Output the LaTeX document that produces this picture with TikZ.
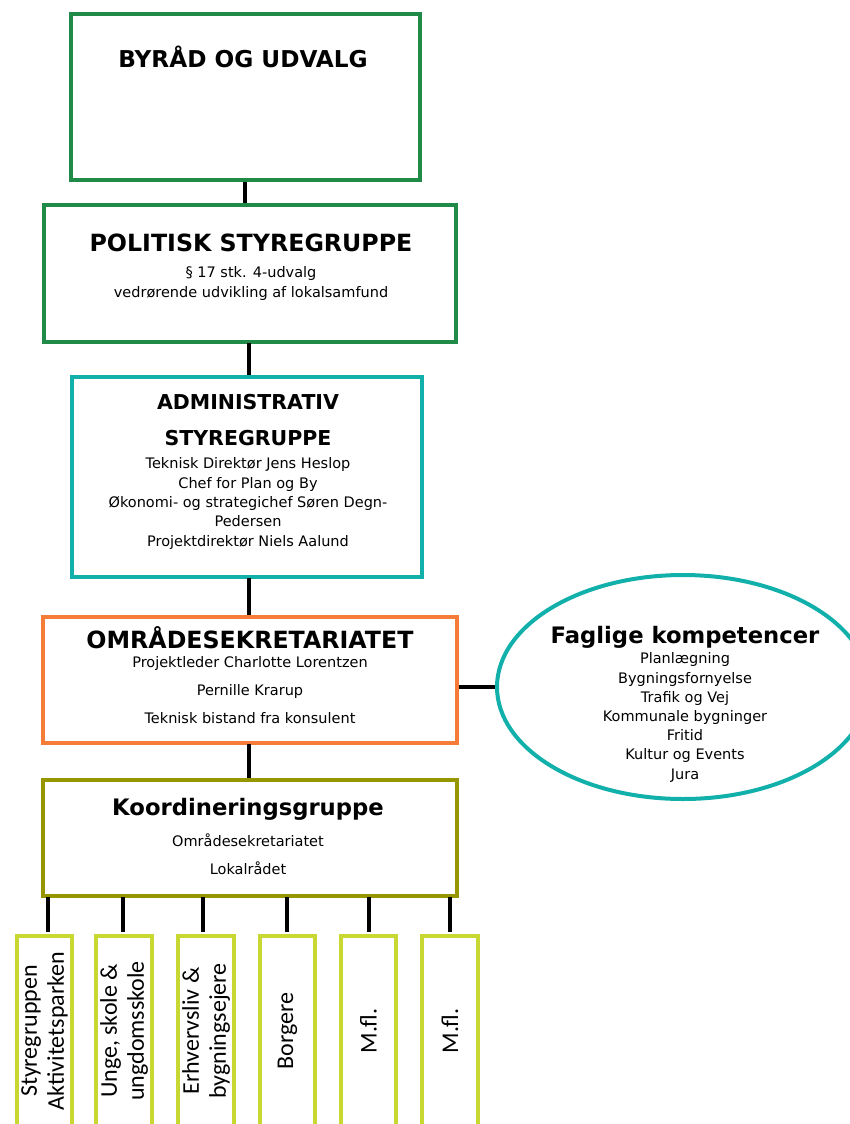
\documentclass[tikz,border=0pt]{standalone}
\usepackage{fontspec}
\usetikzlibrary{shapes.geometric}
\setmainfont{DejaVu Sans}
\newfontfamily\calfont{Carlito}
\definecolor{cgreen}{RGB}{32,138,72}
\definecolor{cteal}{RGB}{18,176,170}
\definecolor{corange}{RGB}{245,125,55}
\definecolor{colive}{RGB}{150,150,0}
\definecolor{clime}{RGB}{200,215,50}
\tikzset{
  box/.style={draw=#1, line width=4pt, rectangle, inner sep=0pt, fill=white},
  conn/.style={draw=black, line width=3.6pt},
  ttl/.style={font=\bfseries\fontsize{#1}{#1}\selectfont, inner sep=0pt, text=black},
  body/.style={font=\fontsize{14.5}{#1}\selectfont, align=center, inner sep=0pt, text=black},
  vtext/.style={font=\calfont\fontsize{24}{27}\selectfont, rotate=90, align=center, inner sep=0pt},
}
\begin{document}
\begin{tikzpicture}[x=1pt,y=-1pt]
\useasboundingbox (0,0) rectangle (850,1124);
\clip (0,0) rectangle (850,1124);
% boxes
\node[box=cgreen, minimum width=349, minimum height=165] (byrad) at (245,97) {};
\node[box=cgreen, minimum width=412, minimum height=137] (pol) at (249.5,273) {};
\node[box=cteal, minimum width=350, minimum height=200] (adm) at (246.5,476.5) {};
\node[box=corange, minimum width=414, minimum height=126] (omr) at (249.5,679.5) {};
\node[box=colive, minimum width=414, minimum height=116] (koord) at (249.5,837.5) {};
\node[draw=cteal, line width=4pt, ellipse, minimum width=372, minimum height=224, inner sep=0pt] (ell) at (683,687) {};
% bottom boxes
\foreach \n/\x/\w in {b1/44.5/55, b2/124/56, b3/206/56, b4/287.5/55, b5/368.5/55, b6/450/56}{
  \node[box=clime, minimum width=\w, minimum height=220, anchor=north] (\n) at (\x,934) {};
}
% connectors
\draw[conn] (byrad.south) -- (byrad.south |- pol.north);
\draw[conn] (249,343) -- (249,375);
\draw[conn] (249,578) -- (249,615);
\draw[conn] (249,744) -- (249,778);
\draw[conn] (ell.west) -- (ell.west -| omr.east);
\foreach \n/\x in {b1/48, b2/123, b3/203, b4/287, b5/369, b6/450}{
  \draw[conn] (\x,897) -- (\x,932);
}
% texts
\node[ttl=23.2] (t1) at (243,57) {BYRÅD OG UDVALG};
\node[ttl=23.7] (t2) at (251,243) {POLITISK STYREGRUPPE};
\node[body=20] (t2b) at (251,283) {§ 17 stk. 4-udvalg\\vedrørende udvikling af lokalsamfund};
\node[font=\bfseries\fontsize{20.5}{36}\selectfont, align=center, inner sep=0pt] (t3) at (248,420) {ADMINISTRATIV\\STYREGRUPPE};
\node[body=19.4] (t3b) at (248,503.5) {Teknisk Direktør Jens Heslop\\Chef for Plan og By\\Økonomi- og strategichef Søren Degn-\\Pedersen\\Projektdirektør Niels Aalund};
\node[ttl=23.7] (t4) at (250,638) {OMRÅDESEKRETARIATET};
\node[body=28] (t4b) at (250,690) {Projektleder Charlotte Lorentzen\\Pernille Krarup\\Teknisk bistand fra konsulent};
\node[ttl=22.7] (t5) at (248,809) {Koordineringsgruppe};
\node[body=28] (t5b) at (248,854) {Områdesekretariatet\\Lokalrådet};
\node[ttl=22.7] (t6) at (685,637) {Faglige kompetencer};
\node[body=19.2] (t6b) at (685,717.5) {Planlægning\\Bygningsfornyelse\\Trafik og Vej\\Kommunale bygninger\\Fritid\\Kultur og Events\\Jura};
% vertical texts
\node[vtext] (v1) at (44.5,1031) {Styregruppen\\Aktivitetsparken};
\node[vtext] (v2) at (124,1031) {Unge, skole \&\\ungdomsskole};
\node[vtext] (v3) at (206,1031) {Erhvervsliv \&\\bygningsejere};
\node[vtext] (v4) at (287.5,1031) {Borgere};
\node[vtext] (v5) at (368.5,1031) {M.fl.};
\node[vtext] (v6) at (450,1031) {M.fl.};
\end{tikzpicture}
\end{document}
